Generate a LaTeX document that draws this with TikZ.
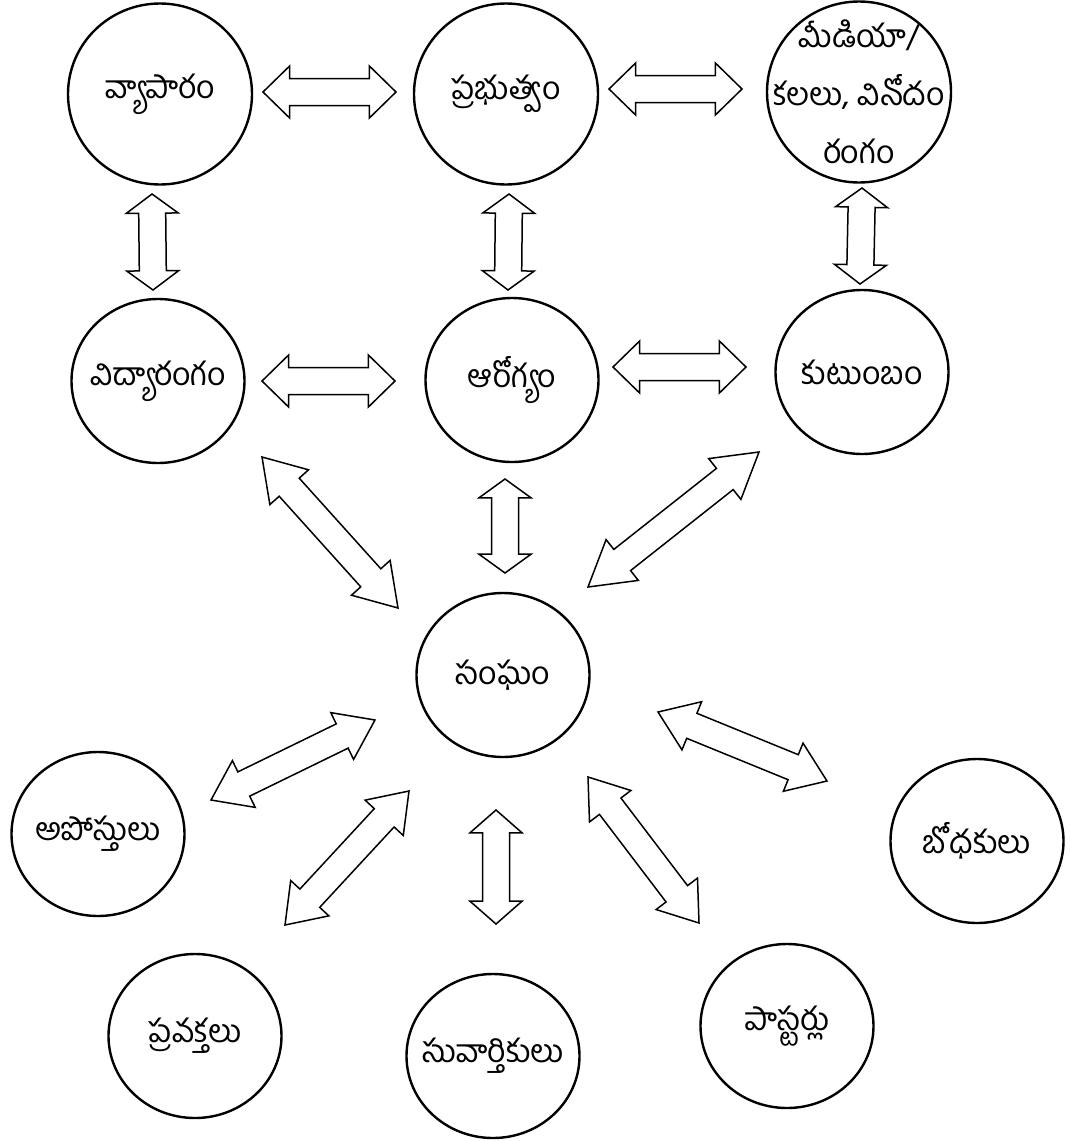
\documentclass[tikz,border=0pt]{standalone}
\usepackage{fontspec}
\newfontfamily\telugu[Script=Telugu]{Hind Guntur}
\usetikzlibrary{shapes.geometric,calc}
\tikzset{
    tag/.style={font=\telugu\fontsize{32}{58}\selectfont,align=center,inner sep=0pt},
    sphere/.style={ellipse,draw,line width=2.4pt,minimum width=173pt,minimum height=164pt,inner sep=0pt,label={[tag]center:#1}},
    bigsphere/.style={sphere={#1},minimum width=184pt,minimum height=181pt},
    twoway/.style={draw,fill=white,line width=1.5pt,line join=miter,to path={
        let \p1=(\tikztostart), \p2=(\tikztotarget),
            \n1={atan2(\y2-\y1,\x2-\x1)}, \n2={0.2*veclen(\x2-\x1,\y2-\y1)} in
        (\p1) -- ($(\p1)+(\n1:\n2)+({\n1+90}:26)$) -- ($(\p1)+(\n1:\n2)+({\n1+90}:13.5)$)
        -- ($(\p2)+({\n1+180}:\n2)+({\n1+90}:13.5)$) -- ($(\p2)+({\n1+180}:\n2)+({\n1+90}:26)$)
        -- (\p2) -- ($(\p2)+({\n1+180}:\n2)+({\n1-90}:26)$) -- ($(\p2)+({\n1+180}:\n2)+({\n1-90}:13.5)$)
        -- ($(\p1)+(\n1:\n2)+({\n1-90}:13.5)$) -- ($(\p1)+(\n1:\n2)+({\n1-90}:26)$) -- cycle}}
}

\begin{document}
\begin{tikzpicture}[x=1pt,y=1pt]
    \useasboundingbox (0,0) rectangle (1070,-1141);
    \node[bigsphere={వ్యాపారం}] (trade) at (160,-94) {};
    \node[bigsphere={ప్రభుత్వం}] (govt) at (506,-94) {};
    \node[bigsphere={మీడియా/\\కలలు, వినోదం\\రంగం}] (media) at (859,-92) {};
    \node[sphere={విద్యారంగం}] (edu) at (158,-381) {};
    \node[sphere={ఆరోగ్యం}] (health) at (512,-380) {};
    \node[sphere={కుటుంబం}] (family) at (862,-372) {};
    \node[sphere={సంఘం}] (church) at (503,-675) {};
    \node[sphere={అపోస్తులు}] (apostles) at (98,-834) {};
    \node[sphere={ప్రవక్తలు}] (prophets) at (195,-1036) {};
    \node[sphere={సువార్తికులు}] (evangelists) at (493,-1056) {};
    \node[sphere={పాస్టర్లు}] (pastors) at (787,-1026) {};
    \node[sphere={బోధకులు}] (teachers) at (977,-841) {};

    \draw[twoway] ($(trade)+(103,2)$) to ($(govt)+(-110,2)$);
    \draw[twoway] ($(govt)+(103,5)$) to ($(media)+(-117,3)$);
    \draw[twoway] ($(trade)+(-8,-100)$) to ($(edu)+(-5,91)$);
    \draw[twoway] ($(govt)+(3,-100)$) to ($(health)+(-4,90)$);
    \draw[twoway] ($(media)+(3,-96)$) to ($(family)+(-2,88)$);
    \draw[twoway] ($(edu)+(104,0)$) to ($(health)+(-117,-1)$);
    \draw[twoway] ($(health)+(101,13)$) to ($(family)+(-116,5)$);
    \draw[twoway] ($(health)+(-7,-99)$) to ($(church)+(2,102)$);
    \draw[twoway] ($(edu)+(104,-76)$) to ($(church)+(-105,67)$);
    \draw[twoway] ($(family)+(-103,-80)$) to ($(church)+(85,88)$);
    \draw[twoway] ($(church)+(-128,-45)$) to ($(apostles)+(113,34)$);
    \draw[twoway] ($(church)+(-94,-116)$) to ($(prophets)+(90,111)$);
    \draw[twoway] ($(church)+(-7,-135)$) to ($(evangelists)+(3,132)$);
    \draw[twoway] ($(church)+(85,-102)$) to ($(pastors)+(-88,103)$);
    \draw[twoway] ($(church)+(155,-37)$) to ($(teachers)+(-150,60)$);
\end{tikzpicture}
\end{document}
